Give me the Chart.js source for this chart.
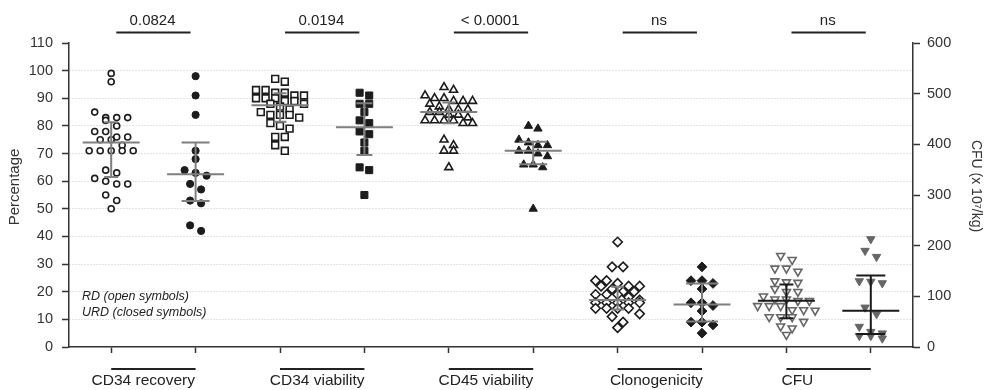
<!DOCTYPE html>
<html>
<head>
<meta charset="utf-8">
<script src="https://cdn.jsdelivr.net/npm/chart.js@4.4.0/dist/chart.umd.min.js"></script>
<style>
    html, body { margin: 0; padding: 0; background: #fff; }
    #wrap { width: 984px; height: 390px; }
</style>
</head>
<body>
<div id="wrap"><canvas id="chart" width="984" height="390"></canvas></div>
<script>
// Categories and comparison labels
const groups = ['CD34 recovery', 'CD34 viability', 'CD45 viability', 'Clonogenicity', 'CFU'];
const pLabels = ['0.0824', '0.0194', '< 0.0001', 'ns', 'ns'];

// RD (open symbols) values, percentage axis except CFU (x 10^7/kg axis)
const rdCd34Recovery = [99, 96, 85, 83, 83, 83, 82, 80, 78, 78, 76, 76, 75, 75, 73, 71, 71, 71, 71, 71, 64, 63, 61, 60, 59, 59, 55, 53, 50];
const rdCd34Viability = [97, 96, 93, 93, 92, 92, 91, 91, 90, 90, 90, 89, 89, 88, 88, 87, 86, 85, 84, 84, 84, 83, 81, 80, 79, 76, 76, 73, 71];
const rdCd45Viability = [94, 93, 91, 90, 90, 89, 89, 89, 88, 87, 86, 86, 86, 85, 85, 84, 84, 83, 82, 82, 82, 82, 81, 81, 75, 73, 71, 71, 65];
const rdClonogenicity = [38, 29, 29, 24, 24, 23, 22, 22, 22, 21, 20, 20, 19, 19, 19, 18, 17, 16, 16, 16, 16, 16, 14, 14, 14, 14, 12, 11, 9, 7];
const rdCfu = [180, 172, 155, 155, 149, 130, 128, 127, 115, 109, 109, 100, 94, 94, 91, 91, 81, 81, 81, 73, 73, 72, 59, 59, 59, 50, 41, 37, 24];

// URD (closed symbols) values
const urdCd34Recovery = [98, 91, 84, 71, 68, 64, 63, 62, 59, 57, 53, 52, 44, 42];
const urdCd34Viability = [92, 91, 88, 88, 85, 82, 81, 78, 77, 74, 71, 65, 64, 55];
const urdCd45Viability = [80, 79, 75, 74, 73, 73, 71, 71, 70, 69, 66, 66, 65, 50];
const urdClonogenicity = [29, 24, 24, 23, 21, 16, 16, 15, 13, 9, 9, 8, 5];
const urdCfu = [213, 190, 178, 130, 129, 126, 78, 65, 40, 30, 27, 22, 22, 17];

// Centre line and error bar ends
const rdMid = [74, 87.5, 85, 17, 91.5];
const rdLow = [61.5, 81.5, 81, 13.6, 56.5];
const rdHigh = [81.3, 91.8, 88.5, 21.8, 123.5];
const urdMid = [62.5, 79.5, 71, 15.4, 71.5];
const urdLow = [52.8, 69.5, 66.1, 9.2, 25.5];
const urdHigh = [74, 88.2, 74.3, 23, 141];

// Axis ticks
const leftTicks = [0, 10, 20, 30, 40, 50, 60, 70, 80, 90, 100, 110];
const rightTicks = [0, 100, 200, 300, 400, 500, 600];

const FONT = "'Liberation Sans', Arial, Helvetica, sans-serif";
Chart.defaults.font.family = FONT;

const rdSeries = [rdCd34Recovery, rdCd34Viability, rdCd45Viability, rdClonogenicity, rdCfu];
const urdSeries = [urdCd34Recovery, urdCd34Viability, urdCd45Viability, urdClonogenicity, urdCfu];

// marker styling per group
const shapes = ['circle', 'rect', 'triangle', 'rectRot', 'triangle'];
const rotations = [0, 0, 0, 0, 180];
const openRadius = [3, 4.8, 4.6, 4.7, 4.6];
const closedRadius = [3.6, 5, 4.8, 4.9, 4.8];
const gaps = [11, 9.6, 9.5, 11, 11.5];
const rowMax = [6, 6, 6, 5, 6];
const capRd = [7, 6.5, 6.5, 6.5, 7];
const capUrd = [14, 8, 14, 16, 14.5];
const labelShift = [0.38, 0.44, 0.44, 0.46, 0.13];

const datasets = [];
groups.forEach((g, i) => {
    const ink = i === 4 ? '#666666' : '#1c1c1c';
    const axis = i === 4 ? 'y2' : 'y';
    datasets.push({
        label: g + ' RD',
        slot: 2 * i,
        gap: gaps[i],
        rowMax: rowMax[i],
        yAxisID: axis,
        data: rdSeries[i].map(v => ({ x: 2 * i, y: v })),
        pointStyle: shapes[i],
        rotation: rotations[i],
        pointRadius: openRadius[i],
        pointBorderWidth: 1.6,
        pointBorderColor: ink,
        pointBackgroundColor: '#ffffff'
    });
    datasets.push({
        label: g + ' URD',
        slot: 2 * i + 1,
        gap: gaps[i],
        rowMax: rowMax[i],
        yAxisID: axis,
        data: urdSeries[i].map(v => ({ x: 2 * i + 1, y: v })),
        pointStyle: shapes[i],
        rotation: rotations[i],
        pointRadius: closedRadius[i],
        pointBorderWidth: 1,
        pointBorderColor: ink,
        pointBackgroundColor: ink
    });
});

// Prism-like column scatter: points close in height share a row, centred on the column
function spreadRows(chart) {
    const xs = chart.scales.x;
    const unit = xs.getPixelForValue(1) - xs.getPixelForValue(0);
    const binH = 7.5;
    chart.data.datasets.forEach(ds => {
        const ys = chart.scales[ds.yAxisID];
        const pts = ds.data.map(p => ({ p: p, py: ys.getPixelForValue(p.y) }));
        pts.sort((a, b) => a.py - b.py);
        const rows = [];
        pts.forEach(pt => {
            const row = rows[rows.length - 1];
            if (row && pt.py - row[0].py < binH && row.length < ds.rowMax) row.push(pt);
            else rows.push([pt]);
        });
        rows.forEach(row => {
            row.forEach((pt, j) => {
                pt.p.x = ds.slot + (j - (row.length - 1) / 2) * ds.gap / unit;
            });
        });
    });
}

const overlay = {
    id: 'overlay',
    afterDatasetsDraw(chart) {
        const ctx = chart.ctx;
        const xs = chart.scales.x;
        ctx.save();
        ctx.lineWidth = 2;
        groups.forEach((g, i) => {
            const ys = i === 4 ? chart.scales.y2 : chart.scales.y;
            ctx.strokeStyle = i === 4 ? '#1a1a1a' : '#7f7f7f';
            const sets = [[rdMid, rdLow, rdHigh, capRd, 0], [urdMid, urdLow, urdHigh, capUrd, 1]];
            sets.forEach(([mid, lo, hi, cap, k]) => {
                const cx = xs.getPixelForValue(2 * i + k);
                const ym = ys.getPixelForValue(mid[i]);
                const yl = ys.getPixelForValue(lo[i]);
                const yh = ys.getPixelForValue(hi[i]);
                ctx.beginPath();
                ctx.moveTo(cx - 28.5, ym); ctx.lineTo(cx + 28.5, ym);
                ctx.moveTo(cx, yl); ctx.lineTo(cx, yh);
                ctx.moveTo(cx - cap[i], yl); ctx.lineTo(cx + cap[i], yl);
                ctx.moveTo(cx - cap[i], yh); ctx.lineTo(cx + cap[i], yh);
                ctx.stroke();
            });
        });
        ctx.restore();
    },
    afterDraw(chart) {
        const ctx = chart.ctx;
        const xs = chart.scales.x;
        const area = chart.chartArea;
        ctx.save();
        ctx.fillStyle = '#222';
        ctx.strokeStyle = '#222';
        ctx.lineWidth = 2;
        ctx.textBaseline = 'middle';
        ctx.textAlign = 'center';

        groups.forEach((g, i) => {
            // comparison line and p value
            const a = xs.getPixelForValue(2 * i + 0.06);
            const b = xs.getPixelForValue(2 * i + 0.94);
            ctx.beginPath();
            ctx.moveTo(a, 32.5); ctx.lineTo(b, 32.5);
            ctx.stroke();
            ctx.font = '15px ' + FONT;
            ctx.fillText(pLabels[i], xs.getPixelForValue(2 * i + 0.49), 21);

            // group bracket and label below the axis
            const l = xs.getPixelForValue(2 * i);
            const r = xs.getPixelForValue(2 * i + 1);
            ctx.beginPath();
            ctx.moveTo(l, 369); ctx.lineTo(r, 369);
            ctx.stroke();
            ctx.font = '15.5px ' + FONT;
            ctx.fillText(g, xs.getPixelForValue(2 * i + labelShift[i]), 381);
        });

        // symbol key
        ctx.textAlign = 'left';
        ctx.font = 'italic 12.5px ' + FONT;
        ctx.fillText('RD (open symbols)', area.left + 13, 297);
        ctx.fillText('URD (closed symbols)', area.left + 13, 313);

        // axis titles
        ctx.fillStyle = '#333';
        ctx.textAlign = 'center';
        ctx.font = '15px ' + FONT;
        ctx.save();
        ctx.translate(15, 187);
        ctx.rotate(-Math.PI / 2);
        ctx.fillText('Percentage', 0, 0);
        ctx.restore();
        ctx.font = '14px ' + FONT;
        ctx.save();
        ctx.translate(976, 186);
        ctx.rotate(Math.PI / 2);
        ctx.fillText('CFU (x 10\u2077/kg)', 0, 0);
        ctx.restore();
        ctx.restore();
    }
};

const chart = new Chart(document.getElementById('chart'), {
    type: 'scatter',
    data: { datasets: datasets },
    options: {
        responsive: false,
        animation: false,
        devicePixelRatio: 1,
        layout: { padding: { top: 43, left: 0, right: 0, bottom: 0 } },
        plugins: { legend: { display: false }, tooltip: { enabled: false } },
        scales: {
            x: {
                type: 'linear',
                min: -0.5,
                max: 9.5,
                afterBuildTicks: s => { s.ticks = [0, 1, 2, 3, 4, 5, 6, 7, 8, 9].map(v => ({ value: v })); },
                afterFit: s => { s.height = 43; },
                ticks: { display: false },
                grid: { drawOnChartArea: false, drawTicks: true, tickLength: 6, tickColor: '#333', tickWidth: 1.5 },
                border: { color: '#333', width: 1.5 }
            },
            y: {
                position: 'left',
                min: 0,
                max: 110,
                afterBuildTicks: s => { s.ticks = leftTicks.map(v => ({ value: v })); },
                afterFit: s => { s.width = 69; },
                ticks: { color: '#333', font: { size: 14.5 }, padding: 9 },
                grid: {
                    color: c => (c.tick && c.tick.value > 0 && c.tick.value < 110) ? '#c8c8c8' : 'rgba(0,0,0,0)',
                    lineWidth: 1,
                    tickLength: 7,
                    tickColor: '#333',
                    tickWidth: 1.5,
                    tickBorderDash: []
                },
                border: { color: '#333', width: 1.5, dash: [1, 2] }
            },
            y2: {
                position: 'right',
                min: 0,
                max: 600,
                afterBuildTicks: s => { s.ticks = rightTicks.map(v => ({ value: v })); },
                afterFit: s => { s.width = 71; },
                ticks: { color: '#333', font: { size: 14.5 }, padding: 7 },
                grid: { drawOnChartArea: false, tickLength: 7, tickColor: '#333', tickWidth: 1.5 },
                border: { color: '#333', width: 1.5 }
            }
        }
    },
    plugins: [overlay]
});

spreadRows(chart);
chart.update('none');
</script>
</body>
</html>
